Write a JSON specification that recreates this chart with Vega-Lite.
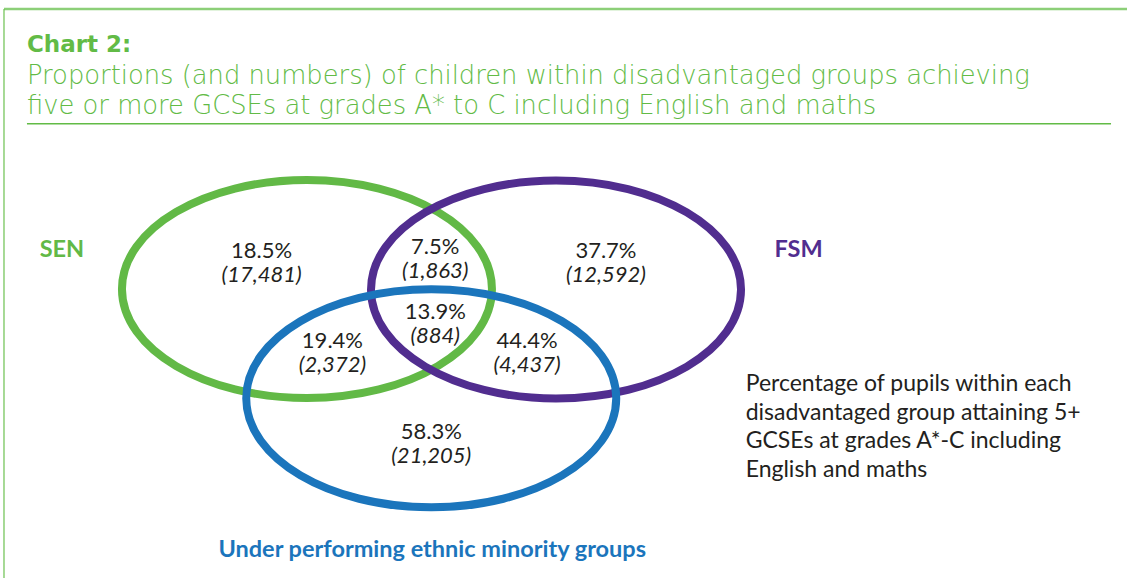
{
  "$schema": "https://vega.github.io/schema/vega-lite/v6.json",
  "width": 1129,
  "height": 579,
  "autosize": {"type": "fit", "contains": "padding"},
  "padding": 0,
  "background": "white",
  "config": {"view": {"stroke": null}},
  "datasets": {
    "frameTop": [{"x": 4, "x2": 1129, "y": 9, "y2": 9}],
    "frameLeft": [{"x": 4, "x2": 4, "y": 9, "y2": 579}],
    "underline": [{"x": 27, "x2": 1113, "y": 124, "y2": 124}],
    "heading": [{"text": "Chart 2:", "x": 27, "y": 52}],
    "subtitle": [
      {"text": "Proportions (and numbers) of children within disadvantaged groups achieving", "x": 27, "y": 84},
      {"text": "five or more GCSEs at grades A* to C including English and maths", "x": 27, "y": 114}
    ],
    "sets": [
      {"group": "SEN", "cx": 307.5, "cy": 289.5},
      {"group": "FSM", "cx": 557, "cy": 290},
      {"group": "Under performing ethnic minority groups", "cx": 432, "cy": 399}
    ],
    "regions": [
      {"region": "SEN only", "pct": "18.5%", "count": "(17,481)", "x": 262, "y": 258.5},
      {"region": "SEN and FSM", "pct": "7.5%", "count": "(1,863)", "x": 436, "y": 254.5},
      {"region": "FSM only", "pct": "37.7%", "count": "(12,592)", "x": 607, "y": 258.5},
      {"region": "All three", "pct": "13.9%", "count": "(884)", "x": 436, "y": 319.5},
      {"region": "SEN and ethnic minority", "pct": "19.4%", "count": "(2,372)", "x": 333, "y": 348.5},
      {"region": "FSM and ethnic minority", "pct": "44.4%", "count": "(4,437)", "x": 528, "y": 348.5},
      {"region": "Ethnic minority only", "pct": "58.3%", "count": "(21,205)", "x": 432, "y": 439.5}
    ],
    "setLabels": [
      {"group": "SEN", "x": 62, "y": 257},
      {"group": "FSM", "x": 800, "y": 257},
      {"group": "Under performing ethnic minority groups", "x": 433, "y": 558}
    ],
    "note": [
      {"text": "Percentage of pupils within each\ndisadvantaged group attaining 5+\nGCSEs at grades A*-C including\nEnglish and maths", "x": 747, "y": 392}
    ]
  },
  "layer": [
    {
      "data": {"name": "frameTop"},
      "mark": {"type": "rule", "color": "#8ccf78", "strokeWidth": 2.5},
      "encoding": {
        "x": {"field": "x", "type": "quantitative", "scale": {"domain": [0, 1129]}, "axis": null},
        "x2": {"field": "x2"},
        "y": {"field": "y", "type": "quantitative", "scale": {"domain": [0, 579], "reverse": true}, "axis": null},
        "y2": {"field": "y2"}
      }
    },
    {
      "data": {"name": "frameLeft"},
      "mark": {"type": "rule", "color": "#6cc04f", "strokeWidth": 1.2},
      "encoding": {
        "x": {"field": "x", "type": "quantitative", "scale": {"domain": [0, 1129]}, "axis": null},
        "x2": {"field": "x2"},
        "y": {"field": "y", "type": "quantitative", "scale": {"domain": [0, 579], "reverse": true}, "axis": null},
        "y2": {"field": "y2"}
      }
    },
    {
      "data": {"name": "underline"},
      "mark": {"type": "rule", "color": "#62bb46", "strokeWidth": 1.5},
      "encoding": {
        "x": {"field": "x", "type": "quantitative", "scale": {"domain": [0, 1129]}, "axis": null},
        "x2": {"field": "x2"},
        "y": {"field": "y", "type": "quantitative", "scale": {"domain": [0, 579], "reverse": true}, "axis": null},
        "y2": {"field": "y2"}
      }
    },
    {
      "data": {"name": "heading"},
      "mark": {"type": "text", "align": "left", "baseline": "alphabetic", "font": "DejaVu Sans", "fontWeight": "bold", "fontSize": 23, "color": "#62bb46"},
      "encoding": {
        "x": {"field": "x", "type": "quantitative", "scale": {"domain": [0, 1129]}, "axis": null},
        "y": {"field": "y", "type": "quantitative", "scale": {"domain": [0, 579], "reverse": true}, "axis": null},
        "text": {"field": "text"}
      }
    },
    {
      "data": {"name": "subtitle"},
      "mark": {"type": "text", "align": "left", "baseline": "alphabetic", "font": "DejaVu Sans", "fontWeight": 200, "fontSize": 25.8, "color": "#62bb46"},
      "encoding": {
        "x": {"field": "x", "type": "quantitative", "scale": {"domain": [0, 1129]}, "axis": null},
        "y": {"field": "y", "type": "quantitative", "scale": {"domain": [0, 579], "reverse": true}, "axis": null},
        "text": {"field": "text"}
      }
    },
    {
      "data": {"name": "sets"},
      "mark": {
        "type": "point",
        "filled": false,
        "opacity": 1,
        "strokeWidth": 8,
        "size": 136900,
        "shape": "M-1,0C-1,-0.3254,-0.5523,-0.5892,0,-0.5892C0.5523,-0.5892,1,-0.3254,1,0C1,0.3254,0.5523,0.5892,0,0.5892C-0.5523,0.5892,-1,0.3254,-1,0Z"
      },
      "encoding": {
        "x": {"field": "cx", "type": "quantitative", "scale": {"domain": [0, 1129]}, "axis": null},
        "y": {"field": "cy", "type": "quantitative", "scale": {"domain": [0, 579], "reverse": true}, "axis": null},
        "color": {
          "field": "group", "type": "nominal", "legend": null,
          "scale": {"domain": ["SEN", "FSM", "Under performing ethnic minority groups"], "range": ["#62b946", "#512d8f", "#1b75bc"]}
        }
      }
    },
    {
      "data": {"name": "regions"},
      "mark": {"type": "text", "align": "center", "baseline": "alphabetic", "font": "Lato", "fontSize": 22, "color": "#231f20"},
      "encoding": {
        "x": {"field": "x", "type": "quantitative", "scale": {"domain": [0, 1129]}, "axis": null},
        "y": {"field": "y", "type": "quantitative", "scale": {"domain": [0, 579], "reverse": true}, "axis": null},
        "text": {"field": "pct"}
      }
    },
    {
      "data": {"name": "regions"},
      "mark": {"type": "text", "align": "center", "baseline": "alphabetic", "font": "Lato", "fontStyle": "italic", "fontSize": 22, "dy": 24, "color": "#231f20"},
      "encoding": {
        "x": {"field": "x", "type": "quantitative", "scale": {"domain": [0, 1129]}, "axis": null},
        "y": {"field": "y", "type": "quantitative", "scale": {"domain": [0, 579], "reverse": true}, "axis": null},
        "text": {"field": "count"}
      }
    },
    {
      "data": {"name": "setLabels"},
      "mark": {"type": "text", "align": "center", "baseline": "alphabetic", "font": "Lato", "fontWeight": "bold", "fontSize": 23.5},
      "encoding": {
        "x": {"field": "x", "type": "quantitative", "scale": {"domain": [0, 1129]}, "axis": null},
        "y": {"field": "y", "type": "quantitative", "scale": {"domain": [0, 579], "reverse": true}, "axis": null},
        "text": {"field": "group"},
        "color": {
          "field": "group", "type": "nominal", "legend": null,
          "scale": {"domain": ["SEN", "FSM", "Under performing ethnic minority groups"], "range": ["#62b946", "#512d8f", "#1b75bc"]}
        }
      }
    },
    {
      "data": {"name": "note"},
      "mark": {"type": "text", "align": "left", "baseline": "alphabetic", "font": "Lato", "fontSize": 23, "lineBreak": "\n", "lineHeight": 28.5, "color": "#231f20"},
      "encoding": {
        "x": {"field": "x", "type": "quantitative", "scale": {"domain": [0, 1129]}, "axis": null},
        "y": {"field": "y", "type": "quantitative", "scale": {"domain": [0, 579], "reverse": true}, "axis": null},
        "text": {"field": "text"}
      }
    }
  ]
}
